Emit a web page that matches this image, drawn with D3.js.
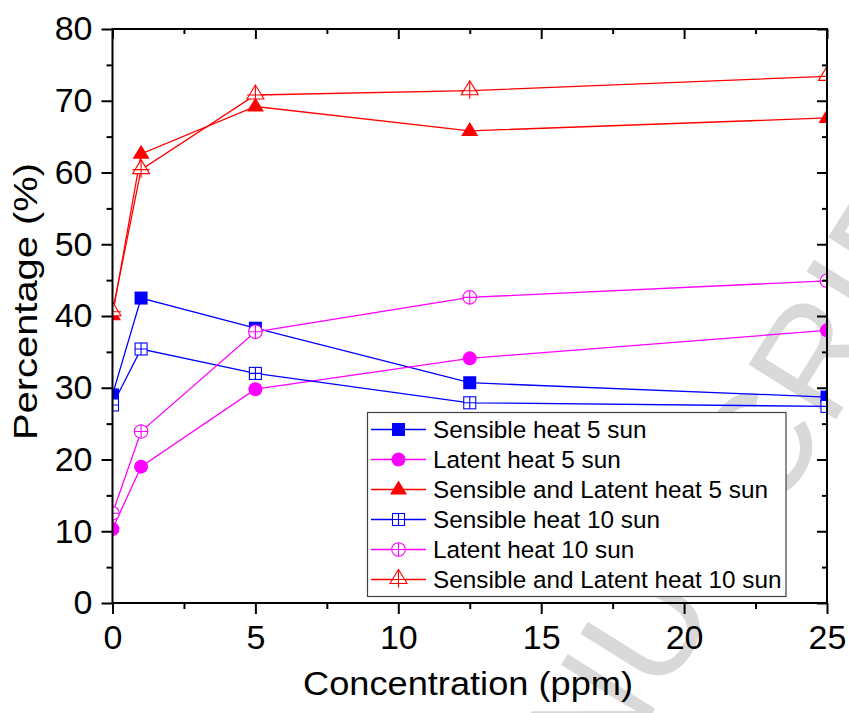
<!DOCTYPE html>
<html>
<head>
<meta charset="utf-8">
<script src="https://cdn.jsdelivr.net/npm/d3@7"></script>
<style>
  body { margin: 0; background: #fff; }
  svg { display: block; }
  text { font-family: "Liberation Sans", Arial, sans-serif; }
</style>
</head>
<body>
<svg id="chart" width="849" height="713"></svg>
<script>
// Concentration of nanofluid (ppm) and share of energy (%)
const concentrations = [0, 1, 5, 12.5, 25];
const sensible5  = [29.0, 42.5, 38.3, 30.7, 28.7];
const latent5    = [10.3, 19.0, 29.8, 34.1, 38.0];
const total5     = [40.1, 62.6, 69.2, 65.8, 67.6];
const sensible10 = [27.6, 35.4, 32.0, 27.9, 27.4];
const latent10   = [12.5, 23.9, 37.8, 42.6, 44.9];
const total10    = [40.6, 60.4, 70.8, 71.4, 73.4];

const seriesNames = [
  "Sensible heat 5 sun",
  "Latent heat 5 sun",
  "Sensible and Latent heat 5 sun",
  "Sensible heat 10 sun",
  "Latent heat 10 sun",
  "Sensible and Latent heat 10 sun"
];
const xTicks = [0, 5, 10, 15, 20, 25];
const xMinor = [2.5, 7.5, 12.5, 17.5, 22.5];
const yTicks = [0, 10, 20, 30, 40, 50, 60, 70, 80];
const yMinor = [5, 15, 25, 35, 45, 55, 65, 75];

const BLUE = "#0000ff", MAGENTA = "#ff00ff", RED = "#ff0000";
const series = [
  { name: seriesNames[0], values: sensible5,  color: BLUE,    shape: "squareFill" },
  { name: seriesNames[1], values: latent5,    color: MAGENTA, shape: "circleFill" },
  { name: seriesNames[2], values: total5,     color: RED,     shape: "triFill" },
  { name: seriesNames[3], values: sensible10, color: BLUE,    shape: "squareCross" },
  { name: seriesNames[4], values: latent10,   color: MAGENTA, shape: "circleCross" },
  { name: seriesNames[5], values: total10,    color: RED,     shape: "triCross" }
];

const svg = d3.select("#chart");
const plotLeft = 112.5, plotRight = 827, plotTop = 29, plotBottom = 603;
const x = d3.scaleLinear().domain([0, 25]).range([plotLeft, plotRight]);
const y = d3.scaleLinear().domain([0, 80]).range([plotBottom, plotTop]);

// faint diagonal watermark behind the plot
svg.append("text")
  .attr("transform", "translate(485,981) rotate(-58)")
  .attr("font-size", 150)
  .attr("fill", "#d9d9d9")
  .text("MANUSCRIPT");

// clip for series inside the frame
svg.append("defs").append("clipPath").attr("id", "plotClip")
  .append("rect").attr("x", plotLeft).attr("y", plotTop)
  .attr("width", plotRight - plotLeft).attr("height", plotBottom - plotTop);

// marker drawing
function drawMarker(g, shape, color) {
  if (shape === "squareFill") {
    g.append("rect").attr("x", -6.5).attr("y", -6.5).attr("width", 13).attr("height", 13)
      .attr("fill", color);
  } else if (shape === "circleFill") {
    g.append("circle").attr("r", 7).attr("fill", color);
  } else if (shape === "triFill") {
    g.append("path").attr("d", "M0,-9L8.5,5L-8.5,5Z").attr("fill", color);
  } else if (shape === "squareCross") {
    g.append("rect").attr("x", -6).attr("y", -6).attr("width", 12).attr("height", 12)
      .attr("fill", "#fff").attr("stroke", color).attr("stroke-width", 1.1);
    g.append("path").attr("d", "M-6,0H6M0,-6V6").attr("stroke", color).attr("stroke-width", 1.1);
  } else if (shape === "circleCross") {
    g.append("circle").attr("r", 6.8).attr("fill", "#fff")
      .attr("stroke", color).attr("stroke-width", 1.1);
    g.append("path").attr("d", "M-6.8,0H6.8M0,-6.8V6.8").attr("stroke", color).attr("stroke-width", 1.1);
  } else if (shape === "triCross") {
    g.append("path").attr("d", "M0,-10L8.5,4L-8.5,4Z").attr("fill", "#fff")
      .attr("stroke", color).attr("stroke-width", 1.1);
    g.append("path").attr("d", "M-8.5,0H8.5M0,-10V8").attr("stroke", color).attr("stroke-width", 1.1);
  }
}

// series lines and markers
const plot = svg.append("g").attr("clip-path", "url(#plotClip)");
const line = d3.line().x((d, i) => x(concentrations[i])).y(d => y(d));
series.forEach(s => {
  plot.append("path").datum(s.values)
    .attr("d", line).attr("fill", "none")
    .attr("stroke", s.color).attr("stroke-width", 1.3);
});
series.forEach(s => {
  s.values.forEach((v, i) => {
    const g = plot.append("g").attr("transform", `translate(${x(concentrations[i])},${y(v)})`);
    drawMarker(g, s.shape, s.color);
  });
});

// axes
function styleAxis(g) {
  g.select(".domain").remove();
  g.selectAll(".tick line").attr("stroke", "#000").attr("stroke-width", 2);
  g.selectAll(".tick text").attr("font-size", 34).attr("fill", "#000")
    .attr("font-family", "'Liberation Sans', Arial, sans-serif");
}
svg.append("g").attr("transform", `translate(0,${plotBottom})`)
  .call(d3.axisBottom(x).tickValues(xTicks).tickSize(11).tickPadding(11).tickFormat(d3.format("d")))
  .call(styleAxis);
svg.append("g").attr("transform", `translate(0,${plotBottom})`)
  .call(d3.axisBottom(x).tickValues(xMinor).tickSize(6).tickFormat(""))
  .call(styleAxis);
svg.append("g").attr("transform", `translate(0,${plotTop})`)
  .call(d3.axisBottom(x).tickValues(xTicks).tickSize(10).tickFormat(""))
  .call(styleAxis);
svg.append("g").attr("transform", `translate(0,${plotTop})`)
  .call(d3.axisBottom(x).tickValues(xMinor).tickSize(5).tickFormat(""))
  .call(styleAxis);
svg.append("g").attr("transform", `translate(${plotLeft},0)`)
  .call(d3.axisLeft(y).tickValues(yTicks).tickSize(11).tickPadding(9).tickFormat(d3.format("d")))
  .call(styleAxis);
svg.append("g").attr("transform", `translate(${plotLeft},0)`)
  .call(d3.axisLeft(y).tickValues(yMinor).tickSize(6).tickFormat(""))
  .call(styleAxis);
svg.append("g").attr("transform", `translate(${plotRight},0)`)
  .call(d3.axisLeft(y).tickValues(yTicks).tickSize(10).tickFormat(""))
  .call(styleAxis);
svg.append("g").attr("transform", `translate(${plotRight},0)`)
  .call(d3.axisLeft(y).tickValues(yMinor).tickSize(5).tickFormat(""))
  .call(styleAxis);

// frame
svg.append("rect").attr("x", plotLeft).attr("y", plotTop)
  .attr("width", plotRight - plotLeft).attr("height", plotBottom - plotTop)
  .attr("fill", "none").attr("stroke", "#000").attr("stroke-width", 2);

// axis titles
svg.append("text")
  .attr("x", 468).attr("y", 695)
  .attr("text-anchor", "middle")
  .attr("font-size", 33)
  .attr("textLength", 330).attr("lengthAdjust", "spacingAndGlyphs")
  .text("Concentration (ppm)");
svg.append("text")
  .attr("transform", "translate(37,301.5) rotate(-90)")
  .attr("text-anchor", "middle")
  .attr("font-size", 33)
  .attr("textLength", 277).attr("lengthAdjust", "spacingAndGlyphs")
  .text("Percentage (%)");

// legend
const legend = svg.append("g");
legend.append("rect").attr("x", 367.5).attr("y", 412.5).attr("width", 418.5).attr("height", 184)
  .attr("fill", "#fff").attr("stroke", "#404040").attr("stroke-width", 1.2);
series.forEach((s, i) => {
  const cy = 429.5 + i * 30;
  legend.append("line").attr("x1", 371).attr("x2", 426).attr("y1", cy).attr("y2", cy)
    .attr("stroke", s.color).attr("stroke-width", 1.3);
  const g = legend.append("g").attr("transform", `translate(398.5,${cy})`);
  drawMarker(g, s.shape, s.color);
  legend.append("text").attr("x", 433).attr("y", cy + 8.5)
    .attr("font-size", 24.3).attr("fill", "#000").text(s.name);
});
</script>
</body>
</html>
